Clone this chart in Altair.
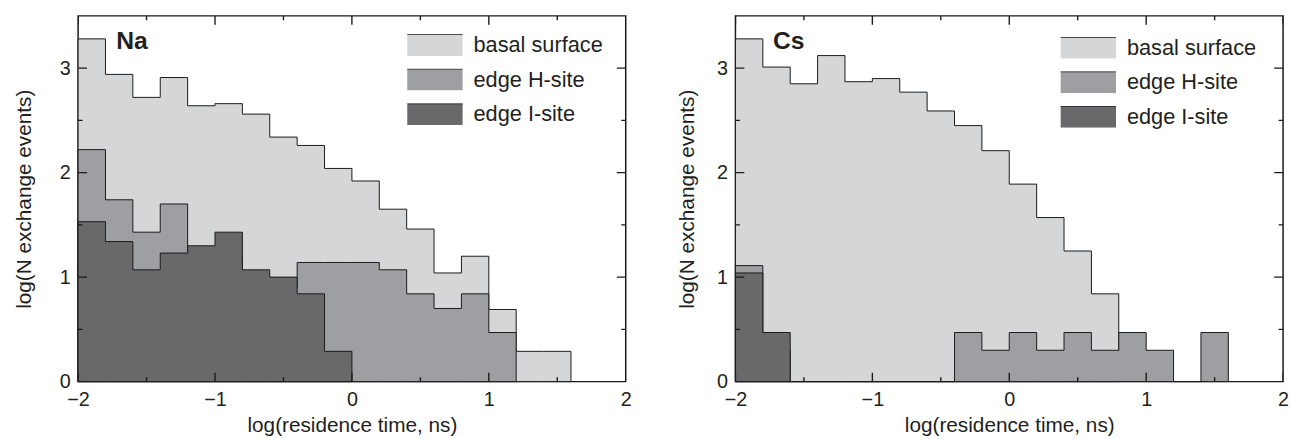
import altair as alt
import pandas as pd

# ---------------- data ----------------
bin_starts = [-2.0, -1.8, -1.6, -1.4, -1.2, -1.0, -0.8, -0.6, -0.4, -0.2,
              0.0, 0.2, 0.4, 0.6, 0.8, 1.0, 1.2, 1.4, 1.6]
series_names = ["basal surface", "edge H-site", "edge I-site"]
series_colors = ["#d5d6d8", "#9e9fa2", "#69696b"]

na_basal = [3.28, 2.94, 2.72, 2.91, 2.64, 2.66, 2.56, 2.34, 2.26, 2.04,
            1.92, 1.65, 1.46, 1.04, 1.20, 0.69, 0.29, 0.29]
na_hsite = [2.22, 1.74, 1.43, 1.70, 1.15, 1.20, 0.95, 0.90, 1.14, 1.14,
            1.14, 1.07, 0.84, 0.70, 0.84, 0.47]
na_isite = [1.53, 1.34, 1.07, 1.23, 1.30, 1.43, 1.07, 1.00, 0.84, 0.29]

cs_basal = [3.28, 3.01, 2.85, 3.12, 2.87, 2.90, 2.77, 2.59, 2.45, 2.21,
            1.89, 1.57, 1.25, 0.84]
cs_hsite = [1.11, 0.30, 0.0, 0.0, 0.0, 0.0, 0.0, 0.0, 0.47, 0.30,
            0.47, 0.30, 0.47, 0.30, 0.47, 0.30, 0.0, 0.47]
cs_isite = [1.04, 0.47]

x_domain = [-2, 2]
y_domain = [0, 3.5]
x_major = [-2, -1, 0, 1, 2]
x_minor = [-1.5, -0.5, 0.5, 1.5]
y_major = [0, 1, 2, 3]
y_minor = [0.5, 1.5, 2.5]

x_title = "log(residence time, ns)"
y_title = "log(N exchange events)"

FONT = "Liberation Sans"
TXT = "#231f20"
INK = "#1a1a1a"
W, H = 554, 370


def series_rows(name, values):
    rows = [{"series": name, "x": bin_starts[i], "y": v} for i, v in enumerate(values)]
    rows.append({"series": name, "x": bin_starts[len(values)], "y": 0.0})
    return rows


def panel(label, basal, hsite, isite, legend_x, legend_y, y_title_pad, label_x):
    rows = (series_rows(series_names[0], basal) + series_rows(series_names[1], hsite)
            + series_rows(series_names[2], isite))
    df = pd.DataFrame(rows)
    xs = alt.Scale(domain=x_domain, nice=False, zero=False)
    ys = alt.Scale(domain=y_domain, nice=False, zero=False)
    fill_scale = alt.Scale(domain=series_names, range=series_colors)
    legend = alt.Legend(orient="none", legendX=legend_x, legendY=legend_y, title=None,
                        symbolType="M-1,-0.39H1V0.39H-1Z", symbolSize=3136,
                        symbolStrokeColor=INK, symbolStrokeWidth=1.3,
                        symbolDash=[56, 400], symbolOpacity=1, clipHeight=22,
                        labelFontSize=22, labelFont=FONT, labelColor=TXT,
                        labelOffset=10, rowPadding=13, padding=0)

    x_axis = alt.Axis(orient="bottom", values=x_major, format="d", ticks=False,
                      domain=False, grid=False, labelFlush=False, labelOverlap=False,
                      labelFontSize=20, labelFont=FONT, labelColor=TXT, labelPadding=8.5,
                      title=x_title, titleFont=FONT, titleFontSize=21,
                      titleFontWeight="normal", titleColor=TXT, titlePadding=5)
    y_axis = alt.Axis(orient="left", values=y_major, format="d", ticks=False,
                      domain=False, grid=False, labelFlush=False, labelOverlap=False,
                      labelFontSize=20, labelFont=FONT, labelColor=TXT, labelPadding=8,
                      title=y_title, titleFont=FONT, titleFontSize=21,
                      titleFontWeight="normal", titleColor=TXT, titlePadding=y_title_pad)

    layers = []
    for i, name in enumerate(series_names):
        first = i == 0
        xenc = alt.X("x:Q", scale=xs, axis=x_axis) if first else alt.X("x:Q", scale=xs, axis=None)
        yenc = (alt.Y("y:Q", scale=ys, stack=None, axis=y_axis) if first
                else alt.Y("y:Q", scale=ys, stack=None, axis=None))
        layers.append(
            alt.Chart(df)
            .transform_filter(alt.datum.series == name)
            .mark_area(interpolate="step-after", stroke=INK, strokeWidth=1, fillOpacity=1)
            .encode(x=xenc, y=yenc,
                    fill=alt.Fill("series:N", scale=fill_scale, legend=legend))
        )

    # inward ticks on all four sides (clipped to the plot frame)
    def xticks(values, length):
        d = pd.DataFrame([{"v": v, "edge": e} for v in values for e in y_domain])
        return alt.Chart(d).mark_tick(orient="vertical", size=length, thickness=1.4,
                                      color=INK, clip=True, opacity=1).encode(
            x=alt.X("v:Q", scale=xs, axis=None),
            y=alt.Y("edge:Q", scale=ys, axis=None))

    def yticks(values, length):
        d = pd.DataFrame([{"v": v, "edge": e} for v in values for e in x_domain])
        return alt.Chart(d).mark_tick(orient="horizontal", size=length, thickness=1.4,
                                      color=INK, clip=True, opacity=1).encode(
            y=alt.Y("v:Q", scale=ys, axis=None),
            x=alt.X("edge:Q", scale=xs, axis=None))

    layers += [xticks(x_major, 18), xticks(x_minor, 9), yticks(y_major, 18), yticks(y_minor, 9)]

    lab = (alt.Chart(pd.DataFrame({"t": [label]}))
           .mark_text(align="left", baseline="alphabetic", fontSize=25,
                      fontWeight="bold", font=FONT, color=TXT)
           .encode(text="t:N", x=alt.value(label_x), y=alt.value(33.5)))
    layers.append(lab)

    return (alt.layer(*layers)
            .resolve_axis(x="independent", y="independent")
            .properties(width=W, height=H))


left = panel("Na", na_basal, na_hsite, na_isite, 332, 18.6, 25, 38.5)
right = panel("Cs", cs_basal, cs_hsite, cs_isite, 328, 21.3, 19, 38)

chart = (alt.hconcat(left, right, spacing=44)
         .resolve_scale(fill="independent")
         .resolve_legend(fill="independent")
         .properties(padding={"left": 13, "top": 12.5, "right": 0, "bottom": 0},
                     background="white")
         .configure_view(stroke=INK, strokeWidth=1.5))

chart.save("out.html", embed_options={"renderer": "svg", "actions": False})
